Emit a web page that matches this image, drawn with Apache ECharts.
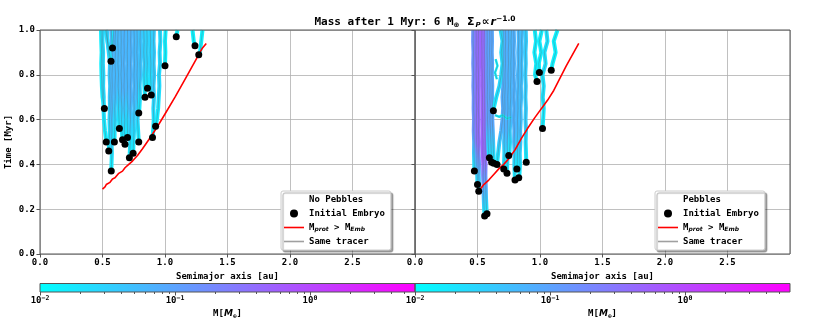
<!DOCTYPE html>
<html>
<head>
<meta charset="utf-8">
<script src="https://cdn.jsdelivr.net/npm/echarts@6/dist/echarts.min.js"></script>
<style>html,body{margin:0;padding:0;background:#fff}#chart{width:830px;height:332px}</style>
</head>
<body>
<div id="chart"></div>
<script>
// time levels where the tracer tracks are sampled (a track fills the last N levels)
const tLevels = [0.15, 0.2, 0.25, 0.3, 0.35, 0.4, 0.45, 0.5, 0.55, 0.6, 0.65, 0.7, 0.75, 0.8, 0.85, 0.9, 0.95, 1.0];
const massMin = 0.01;
const massMax = 6;

// No Pebbles panel
const leftEmbryoX = [0.515, 0.53, 0.55, 0.57, 0.568, 0.58, 0.595, 0.635, 0.66, 0.68, 0.70, 0.715, 0.745, 0.79, 0.79, 0.84, 0.86, 0.89, 0.90, 0.925, 1.0, 1.09, 1.24, 1.27];
const leftEmbryoT = [0.65, 0.50, 0.46, 0.37, 0.86, 0.92, 0.50, 0.56, 0.51, 0.49, 0.52, 0.43, 0.45, 0.50, 0.63, 0.70, 0.74, 0.71, 0.52, 0.57, 0.84, 0.97, 0.93, 0.89];
const leftFinalMass = [0.015, 0.025, 0.04, 0.06, 0.025, 0.02, 0.06, 0.055, 0.06, 0.065, 0.06, 0.065, 0.06, 0.055, 0.045, 0.035, 0.03, 0.03, 0.035, 0.025, 0.015, 0.012, 0.013, 0.014];
const leftTracks = [
  [0.50, 0.495, 0.492, 0.49, 0.493, 0.49, 0.488],
  [0.52, 0.512, 0.508, 0.51, 0.505, 0.507, 0.503, 0.505, 0.50, 0.503],
  [0.553, 0.558, 0.556, 0.56, 0.558, 0.561, 0.557, 0.56, 0.55, 0.54, 0.535],
  [0.572, 0.575, 0.572, 0.576, 0.574, 0.578, 0.575, 0.578, 0.576, 0.58, 0.577, 0.575, 0.57],
  [0.555, 0.54, 0.525],
  [0.585, 0.59],
  [0.597, 0.60, 0.598, 0.602, 0.60, 0.604, 0.60, 0.603, 0.60, 0.605],
  [0.632, 0.628, 0.63, 0.625, 0.628, 0.623, 0.626, 0.622, 0.625],
  [0.655, 0.652, 0.655, 0.65, 0.653, 0.648, 0.652, 0.648, 0.65, 0.648],
  [0.678, 0.675, 0.678, 0.673, 0.676, 0.672, 0.675, 0.67, 0.674, 0.672, 0.675],
  [0.70, 0.698, 0.702, 0.698, 0.70, 0.697, 0.70, 0.698, 0.701, 0.70],
  [0.718, 0.722, 0.72, 0.724, 0.722, 0.726, 0.723, 0.727, 0.724, 0.728, 0.725, 0.727],
  [0.748, 0.752, 0.75, 0.754, 0.751, 0.755, 0.752, 0.756, 0.753, 0.755, 0.752],
  [0.785, 0.78, 0.783, 0.778, 0.78, 0.776, 0.779, 0.775, 0.778, 0.776],
  [0.795, 0.80, 0.797, 0.802, 0.80, 0.804, 0.80, 0.803],
  [0.835, 0.832, 0.835, 0.83, 0.833, 0.83],
  [0.858, 0.855, 0.858, 0.854, 0.857, 0.855],
  [0.888, 0.884, 0.887, 0.882, 0.885, 0.882],
  [0.905, 0.91, 0.907, 0.912, 0.908, 0.913, 0.909, 0.912, 0.908, 0.911],
  [0.935, 0.945, 0.95, 0.955, 0.952, 0.96, 0.957, 0.963, 0.96],
  [1.0, 1.003, 1.0, 1.005],
  [1.10],
  [1.23, 1.22],
  [1.28, 1.29, 1.30]
];
const leftRedX = [0.5, 0.51, 0.52, 0.53, 0.56, 0.58, 0.6, 0.63, 0.66, 0.68, 0.71, 0.74, 0.78, 0.82, 0.87, 0.93, 1.0, 1.08, 1.16, 1.24, 1.3, 1.33];
const leftRedT = [0.29, 0.295, 0.30, 0.31, 0.32, 0.335, 0.34, 0.36, 0.37, 0.385, 0.40, 0.415, 0.44, 0.47, 0.51, 0.56, 0.625, 0.70, 0.78, 0.86, 0.92, 0.94];

// Pebbles panel
const rightEmbryoX = [0.475, 0.50, 0.51, 0.557, 0.576, 0.595, 0.613, 0.63, 0.656, 0.627, 0.71, 0.736, 0.75, 0.80, 0.815, 0.83, 0.89, 0.976, 0.995, 1.02, 1.09];
const rightEmbryoT = [0.37, 0.31, 0.28, 0.17, 0.18, 0.43, 0.41, 0.405, 0.40, 0.64, 0.38, 0.36, 0.44, 0.33, 0.38, 0.34, 0.41, 0.77, 0.81, 0.56, 0.82];
const rightFinalMass = [0.15, 0.3, 0.4, 0.5, 0.4, 0.12, 0.1, 0.09, 0.08, 0.025, 0.07, 0.07, 0.06, 0.07, 0.06, 0.05, 0.035, 0.015, 0.015, 0.02, 0.014];
const rightTracks = [
  [0.474, 0.472, 0.473, 0.47, 0.472, 0.469, 0.47, 0.467, 0.469, 0.466, 0.468, 0.465, 0.466],
  [0.498, 0.495, 0.496, 0.493, 0.494, 0.491, 0.493, 0.49, 0.492, 0.489, 0.491, 0.488, 0.49, 0.489],
  [0.512, 0.51, 0.512, 0.509, 0.511, 0.508, 0.51, 0.507, 0.509, 0.506, 0.508, 0.505, 0.507, 0.506, 0.508],
  [0.553, 0.55, 0.548, 0.545, 0.546, 0.543, 0.544, 0.541, 0.542, 0.539, 0.54, 0.537, 0.538, 0.535, 0.536, 0.534, 0.535],
  [0.572, 0.568, 0.566, 0.563, 0.564, 0.561, 0.562, 0.559, 0.56, 0.557, 0.558, 0.555, 0.556, 0.554, 0.555, 0.553, 0.555],
  [0.59, 0.585, 0.583, 0.58, 0.582, 0.578, 0.58, 0.577, 0.579, 0.576, 0.578, 0.577],
  [0.61, 0.607, 0.604, 0.60, 0.602, 0.598, 0.60, 0.597, 0.599, 0.596, 0.598, 0.597],
  [0.628, 0.625, 0.622, 0.618, 0.62, 0.616, 0.618, 0.615, 0.617, 0.614, 0.616, 0.615],
  [0.665, 0.675, 0.69, 0.70, 0.705, 0.70, 0.706, 0.702, 0.707, 0.704, 0.706, 0.705],
  [0.63, 0.65, 0.675, 0.69, 0.70, 0.69, 0.70, 0.685],
  [0.712, 0.715, 0.713, 0.717, 0.715, 0.72, 0.718, 0.722, 0.72, 0.724, 0.722, 0.725, 0.723],
  [0.738, 0.74, 0.738, 0.742, 0.74, 0.744, 0.742, 0.746, 0.744, 0.748, 0.746, 0.75, 0.748],
  [0.755, 0.76, 0.758, 0.763, 0.761, 0.766, 0.764, 0.768, 0.766, 0.77, 0.768, 0.772],
  [0.798, 0.795, 0.797, 0.793, 0.795, 0.791, 0.794, 0.79, 0.793, 0.789, 0.792, 0.789, 0.792, 0.79],
  [0.818, 0.82, 0.818, 0.822, 0.82, 0.824, 0.822, 0.826, 0.824, 0.828, 0.826, 0.83, 0.828],
  [0.835, 0.84, 0.838, 0.843, 0.841, 0.846, 0.844, 0.849, 0.847, 0.852, 0.85, 0.855, 0.853, 0.857],
  [0.888, 0.885, 0.888, 0.884, 0.887, 0.883, 0.886, 0.882, 0.886, 0.884, 0.888, 0.886],
  [0.96, 0.97, 0.955, 0.968, 0.958],
  [0.99, 1.01, 0.995, 1.015],
  [1.025, 1.03, 1.022, 1.03, 1.02, 1.045, 1.035, 1.06, 1.05],
  [1.10, 1.125, 1.11, 1.14]
];
const rightLinkX = [[0.64, 0.675, 0.70, 0.735, 0.77], [0.655, 0.64, 0.66, 0.645]];
const rightLinkT = [[0.62, 0.612, 0.62, 0.605, 0.61], [0.78, 0.81, 0.84, 0.87]];
const rightRedX = [0.51, 0.53, 0.55, 0.59, 0.63, 0.67, 0.71, 0.75, 0.8, 0.85, 0.9, 0.96, 1.06, 1.11, 1.21, 1.31];
const rightRedT = [0.285, 0.295, 0.31, 0.33, 0.355, 0.38, 0.40, 0.425, 0.465, 0.515, 0.56, 0.61, 0.686, 0.73, 0.84, 0.94];

// colour bar ticks
const cbMajor = [0.01, 0.1, 1];
const cbMinor = [0.02, 0.03, 0.04, 0.05, 0.06, 0.07, 0.08, 0.09, 0.2, 0.3, 0.4, 0.5, 0.6, 0.7, 0.8, 0.9, 2, 3, 4, 5];

const FONT = 'DejaVu Sans Mono';
const axisGray = '#555';
const gridGray = '#b0b0b0';
const LINE_ICON = 'path://M0,0H20V1.6H0Z';

// matplotlib "cool" colormap on a log mass scale
function massColor(m) {
  const lo = Math.log10(massMin), hi = Math.log10(massMax);
  const f = Math.min(1, Math.max(0, (Math.log10(m) - lo) / (hi - lo)));
  return 'rgb(' + Math.round(255 * f) + ',' + Math.round(255 * (1 - f)) + ',255)';
}

function tracerPath(x0, t0, track) {
  const lv = tLevels.slice(tLevels.length - track.length);
  return [[x0, t0]].concat(track.map((x, i) => [x, lv[i]]));
}

function panelSeries(idx, ex, et, mass, tracks, hold, redX, redT) {
  const out = [];
  tracks.forEach((track, i) => {
    const path = tracerPath(ex[i], et[i], track);
    const top = massColor(mass[i]);
    out.push({
      type: 'line', xAxisIndex: idx, yAxisIndex: idx, data: path, symbol: 'none', silent: true, z: 2,
      lineStyle: {
        width: 4,
        color: new echarts.graphic.LinearGradient(0, 0, 0, 1, [
          { offset: 0, color: top }, { offset: hold, color: top }, { offset: 1, color: massColor(massMin * 1.4) }
        ])
      }
    });
    out.push({
      name: 'Same tracer', type: 'line', xAxisIndex: idx, yAxisIndex: idx, data: path, symbol: 'none', silent: true, z: 3,
      lineStyle: { width: 0.6, color: '#5a6a70', opacity: 0.6 }
    });
  });
  out.push({
    name: 'Mprot', type: 'line', xAxisIndex: idx, yAxisIndex: idx, symbol: 'none', z: 4,
    data: redX.map((x, i) => [x, redT[i]]),
    lineStyle: { width: 1.6, color: '#ff0000' }, itemStyle: { color: '#ff0000' }
  });
  out.push({
    name: 'Initial Embryo', type: 'scatter', xAxisIndex: idx, yAxisIndex: idx, z: 5, symbolSize: 7,
    data: ex.map((x, i) => [x, et[i]]), itemStyle: { color: '#000', opacity: 1 }
  });
  return out;
}

const series = [].concat(
  panelSeries(0, leftEmbryoX, leftEmbryoT, leftFinalMass, leftTracks, 0.55, leftRedX, leftRedT),
  panelSeries(1, rightEmbryoX, rightEmbryoT, rightFinalMass, rightTracks, 0.7, rightRedX, rightRedT)
);
rightLinkX.forEach((xs, k) => {
  const path = xs.map((x, i) => [x, rightLinkT[k][i]]);
  series.push({ type: 'line', xAxisIndex: 1, yAxisIndex: 1, data: path, symbol: 'none', silent: true, z: 2,
    lineStyle: { width: 2.4, color: massColor(0.015) } });
  series.push({ name: 'Same tracer', type: 'line', xAxisIndex: 1, yAxisIndex: 1, data: path, symbol: 'none', silent: true, z: 3,
    lineStyle: { width: 0.6, color: '#5a6a70', opacity: 0.6 } });
});
// legend headers
series.push({ name: 'No Pebbles', type: 'line', xAxisIndex: 0, yAxisIndex: 0, data: [] });
series.push({ name: 'Pebbles', type: 'line', xAxisIndex: 1, yAxisIndex: 1, data: [] });
// colour bars
const cbGradient = new echarts.graphic.LinearGradient(0, 0, 1, 0, [
  { offset: 0, color: massColor(massMin) }, { offset: 1, color: massColor(massMax) }
]);
[[2, 2], [4, 3]].forEach(([xi, yi]) => {
  series.push({ type: 'line', xAxisIndex: xi, yAxisIndex: yi, data: [[massMin, 1], [massMax, 1]], symbol: 'none', silent: true,
    lineStyle: { width: 0 }, areaStyle: { color: cbGradient, opacity: 1 } });
});

const tickText = { fontFamily: FONT, fontWeight: 'bold', fontSize: 9, color: '#000' };

function panelX(gi) {
  return {
    gridIndex: gi, type: 'value', min: 0, max: 3, interval: 0.5,
    name: 'Semimajor axis [au]', nameLocation: 'middle', nameGap: 13, nameTextStyle: tickText,
    axisLine: { show: false },
    axisTick: { show: true, length: 3.5, lineStyle: { color: axisGray } },
    axisLabel: Object.assign({ formatter: v => v.toFixed(1), showMaxLabel: false, margin: 4 }, tickText),
    splitLine: { show: true, lineStyle: { color: gridGray, width: 0.8 } }
  };
}
function panelY(gi, labels) {
  return {
    gridIndex: gi, type: 'value', min: 0, max: 1, interval: 0.2,
    name: labels ? 'Time [Myr]' : '', nameLocation: 'middle', nameGap: 27, nameTextStyle: tickText,
    axisLine: { show: false },
    axisTick: { show: true, length: 3.5, lineStyle: { color: axisGray } },
    axisLabel: Object.assign({ show: labels, formatter: v => v.toFixed(1), margin: 5 }, tickText),
    splitLine: { show: true, lineStyle: { color: gridGray, width: 0.8 } }
  };
}
const supRich = {
  b: { fontFamily: FONT, fontWeight: 'bold', fontSize: 9, color: '#000' },
  sup: { fontFamily: FONT, fontWeight: 'bold', fontSize: 6.5, color: '#000', padding: [0, 0, 5, 0] },
  it: { fontFamily: 'DejaVu Sans', fontStyle: 'italic', fontWeight: 'bold', fontSize: 9, color: '#000' },
  sub: { fontFamily: FONT, fontWeight: 'bold', fontSize: 6, color: '#000', padding: [4, 0, 0, 0] }
};
function cbMajorAxis(gi) {
  return {
    gridIndex: gi, type: 'log', logBase: 10, min: massMin, max: massMax, position: 'bottom',
    name: '{b|M[}{it|M}{sub|⊕}{b|]}', nameLocation: 'middle', nameGap: 17,
    nameTextStyle: Object.assign({ rich: supRich }, tickText),
    axisLine: { show: false },
    axisTick: { show: true, length: 3.5, customValues: cbMajor, lineStyle: { color: axisGray } },
    axisLabel: Object.assign({ customValues: cbMajor, margin: 3,
      formatter: v => '{b|10}{sup|' + String(Math.round(Math.log10(v))).replace('-', '−') + '}', rich: supRich }, tickText),
    splitLine: { show: false }
  };
}
function cbMinorAxis(gi) {
  return {
    gridIndex: gi, type: 'log', logBase: 10, min: massMin, max: massMax, position: 'bottom',
    axisLine: { show: false },
    axisTick: { show: true, length: 2, customValues: cbMinor, lineStyle: { color: axisGray } },
    axisLabel: { show: false }, splitLine: { show: false }
  };
}
function cbY(gi) {
  return { gridIndex: gi, type: 'value', min: 0, max: 1, show: false, splitLine: { show: false } };
}

function legendFor(left, header) {
  return {
    orient: 'vertical', left: left, top: 191, padding: [3, 6, 3, 3], itemGap: 3,
    itemWidth: 20, itemHeight: 8,
    backgroundColor: '#fff', borderColor: '#cccccc', borderWidth: 1, borderRadius: 2,
    shadowColor: 'rgba(0,0,0,0.35)', shadowBlur: 1, shadowOffsetX: 2, shadowOffsetY: 2,
    selectedMode: false,
    data: [
      { name: header, icon: 'rect', itemStyle: { color: 'rgba(0,0,0,0)' } },
      { name: 'Initial Embryo', icon: 'circle', itemStyle: { color: '#000', opacity: 1 } },
      { name: 'Mprot', icon: LINE_ICON, itemStyle: { color: '#ff0000', opacity: 1 } },
      { name: 'Same tracer', icon: LINE_ICON, itemStyle: { color: '#a0a0a0', opacity: 1 } }
    ],
    formatter: n => n === 'Mprot' ? '{b|M}{sub|prot}{b| > M}{sub|Emb}' : n,
    textStyle: Object.assign({ lineHeight: 11, rich: {
      b: { fontFamily: FONT, fontWeight: 'bold', fontSize: 9, color: '#000' },
      sub: { fontFamily: 'DejaVu Sans', fontStyle: 'italic', fontWeight: 'bold', fontSize: 6, color: '#000', padding: [4, 0, 0, 0] }
    } }, tickText)
  };
}

const chart = echarts.init(document.getElementById('chart'), null, { renderer: 'canvas' });
chart.setOption({
  animation: false,
  backgroundColor: '#fff',
  title: {
    text: '{b|Mass after 1 Myr: 6 M}{sub|⊕}{b| }{m|Σ}{sub|P}{m|∝}{it|r}{sup|−1.0}',
    left: 'center', top: 10,
    textStyle: {
      rich: {
        b: { fontFamily: FONT, fontWeight: 'bold', fontSize: 11, color: '#000' },
        m: { fontFamily: 'DejaVu Sans', fontWeight: 'bold', fontSize: 11, color: '#000', padding: [0, 1, 0, 1] },
        it: { fontFamily: 'DejaVu Sans', fontStyle: 'italic', fontWeight: 'bold', fontSize: 11, color: '#000' },
        sub: { fontFamily: 'DejaVu Sans', fontStyle: 'italic', fontWeight: 'bold', fontSize: 7, color: '#000', padding: [5, 0, 0, 0] },
        sup: { fontFamily: 'DejaVu Sans', fontWeight: 'bold', fontSize: 7.5, color: '#000', padding: [0, 0, 7, 0] }
      }
    }
  },
  grid: [
    { left: 40, top: 30, width: 375, height: 224, show: true, borderColor: axisGray, borderWidth: 1, z: 10, backgroundColor: 'transparent' },
    { left: 415, top: 30, width: 375, height: 224, show: true, borderColor: axisGray, borderWidth: 1, z: 10, backgroundColor: 'transparent' },
    { left: 40, top: 283.5, width: 375, height: 8.5, show: true, borderColor: axisGray, borderWidth: 1, z: 10, backgroundColor: 'transparent' },
    { left: 415, top: 283.5, width: 375, height: 8.5, show: true, borderColor: axisGray, borderWidth: 1, z: 10, backgroundColor: 'transparent' }
  ],
  xAxis: [panelX(0), panelX(1), cbMajorAxis(2), cbMinorAxis(2), cbMajorAxis(3), cbMinorAxis(3)],
  yAxis: [panelY(0, true), panelY(1, false), cbY(2), cbY(3)],
  legend: [legendFor(281, 'No Pebbles'), legendFor(655, 'Pebbles')],
  series: series
});
</script>
</body>
</html>
